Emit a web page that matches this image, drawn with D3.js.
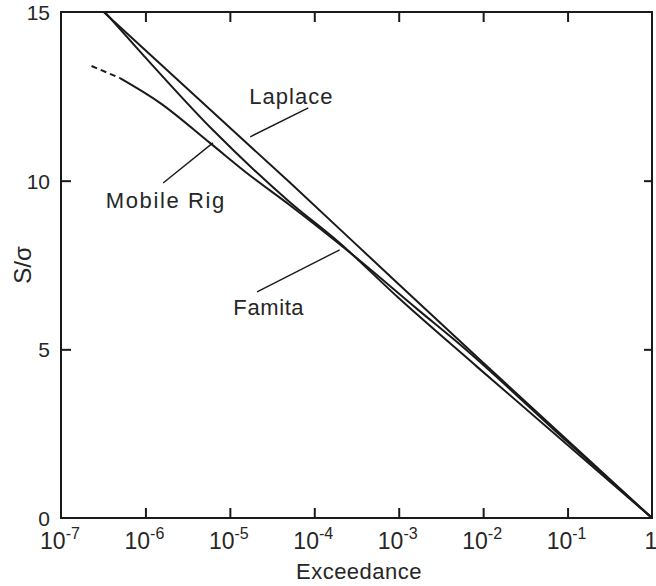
<!DOCTYPE html>
<html>
<head>
<meta charset="utf-8">
<script src="https://cdn.jsdelivr.net/npm/d3@7"></script>
<style>
  body { margin: 0; background: #fff; }
  text { font-family: "Liberation Sans", Arial, sans-serif; fill: #262626; }
</style>
</head>
<body>
<script>
// exceedance decades and their tick labels (base + exponent)
let decades = [1e-7, 1e-6, 1e-5, 1e-4, 1e-3, 1e-2, 1e-1, 1];
let tickBase = ["10", "10", "10", "10", "10", "10", "10", "1"];
let tickExp = ["-7", "-6", "-5", "-4", "-3", "-2", "-1", ""];
let yTicks = [0, 5, 10, 15];

// Laplace
let laplaceP = [3.2e-7, 5.1e-5, 1e-3, 9.1e-3, 1];
let laplaceS = [15, 9.95, 6.93, 4.7, 0];

// Famita
let famitaP = [3.3e-7, 8.7e-7, 6.3e-6, 5.1e-5, 2e-4, 1e-3, 8.5e-3, 1];
let famitaS = [15, 13.82, 11.5, 9.37, 8.15, 6.52, 4.48, 0];

// Mobile Rig (dashed start, then solid)
let mobileDashP = [2.3e-7, 5e-7];
let mobileDashS = [13.4, 13.04];
let mobileP = [5e-7, 1.5e-6, 5.8e-6, 1.7e-5, 5.1e-5, 3.2e-4, 1.7e-3, 5.4e-3, 0.1, 1];
let mobileS = [13.04, 12.3, 11.12, 10.17, 9.28, 7.7, 6.17, 5.13, 2.25, 0];

let W = 656, H = 586;
let plotL = 61, plotR = 652, plotT = 12, plotB = 518;

let x = d3.scaleLog().domain([1e-7, 1]).range([plotL, plotR]);
let y = d3.scaleLinear().domain([0, 15]).range([plotB, plotT]);

let svg = d3.select("body").append("svg")
      .attr("width", W)
      .attr("height", H);

let ink = "#1a1a1a";

// ticks (inward on all four sides)
let inner = decades.slice(1, -1);
svg.append("g")
      .attr("transform", `translate(0,${plotB})`)
      .call(d3.axisBottom(x).tickValues(inner).tickSize(-10).tickFormat(""));
svg.append("g")
      .attr("transform", `translate(0,${plotT})`)
      .call(d3.axisTop(x).tickValues(inner).tickSize(-10).tickFormat(""));
svg.append("g")
      .attr("transform", `translate(${plotL},0)`)
      .call(d3.axisLeft(y).tickValues([5, 10]).tickSize(-10).tickFormat(""));
svg.append("g")
      .attr("transform", `translate(${plotR},0)`)
      .call(d3.axisRight(y).tickValues([5, 10]).tickSize(-8).tickFormat(""));

svg.selectAll(".domain").remove();
svg.selectAll(".tick line").attr("stroke", ink).attr("stroke-width", 2);

// frame
svg.append("rect")
      .attr("x", plotL)
      .attr("y", plotT)
      .attr("width", plotR - plotL)
      .attr("height", plotB - plotT)
      .attr("fill", "none")
      .attr("stroke", ink)
      .attr("stroke-width", 2);

// x tick labels
let xl = svg.append("g").selectAll("text")
      .data(decades)
      .enter().append("text")
                .attr("x", (d) => x(d) - 1)
                .attr("y", 549)
                .attr("text-anchor", "middle")
                .attr("font-size", 23);
xl.append("tspan").text((d, i) => tickBase[i]);
xl.append("tspan")
      .attr("font-size", 16)
      .attr("dy", -10)
      .text((d, i) => tickExp[i]);

// y tick labels
svg.append("g").selectAll("text")
      .data(yTicks)
      .enter().append("text")
                .attr("x", 50)
                .attr("y", (d) => y(d) + 8)
                .attr("text-anchor", "end")
                .attr("font-size", 21)
                .text((d) => d);

// axis titles
svg.append("text")
      .attr("x", 359)
      .attr("y", 579)
      .attr("text-anchor", "middle")
      .attr("font-size", 22)
      .attr("letter-spacing", 0.5)
      .text("Exceedance");

svg.append("text")
      .attr("transform", "translate(31,265) rotate(-90)")
      .attr("text-anchor", "middle")
      .attr("font-size", 24)
      .text("S/σ");

// curves
let line = d3.line()
      .x((d) => x(d[0]))
      .y((d) => y(d[1]))
      .curve(d3.curveMonotoneX);

let series = [
  {p: laplaceP, s: laplaceS, dash: null},
  {p: famitaP, s: famitaS, dash: null},
  {p: mobileP, s: mobileS, dash: null},
  {p: mobileDashP, s: mobileDashS, dash: "6,4"}
];

svg.selectAll("path.curve")
      .data(series)
      .enter().append("path")
                .attr("class", "curve")
                .attr("d", (d) => line(d3.zip(d.p, d.s)))
                .attr("fill", "none")
                .attr("stroke", ink)
                .attr("stroke-width", 2)
                .attr("stroke-dasharray", (d) => d.dash);

// labels with leader lines (positions in data units)
let notes = [
  {name: "Laplace", tx: 1.7e-5, ty: 12.27, ls: 1, from: [1.74e-5, 11.3], to: [8.5e-5, 12.16]},
  {name: "Mobile Rig", tx: 3.4e-7, ty: 9.2, ls: 1.6, from: [1.62e-6, 9.93], to: [6.3e-6, 11.12]},
  {name: "Famita", tx: 1.1e-5, ty: 6.02, ls: 0.6, from: [2.1e-5, 6.7], to: [2e-4, 7.95]}
];

svg.selectAll("line.leader")
      .data(notes)
      .enter().append("line")
                .attr("class", "leader")
                .attr("x1", (d) => x(d.from[0]))
                .attr("y1", (d) => y(d.from[1]))
                .attr("x2", (d) => x(d.to[0]))
                .attr("y2", (d) => y(d.to[1]))
                .attr("stroke", ink)
                .attr("stroke-width", 1.4);

svg.selectAll("text.note")
      .data(notes)
      .enter().append("text")
                .attr("class", "note")
                .attr("x", (d) => x(d.tx))
                .attr("y", (d) => y(d.ty))
                .attr("font-size", 22)
                .attr("letter-spacing", (d) => d.ls)
                .text((d) => d.name);
</script>
</body>
</html>
